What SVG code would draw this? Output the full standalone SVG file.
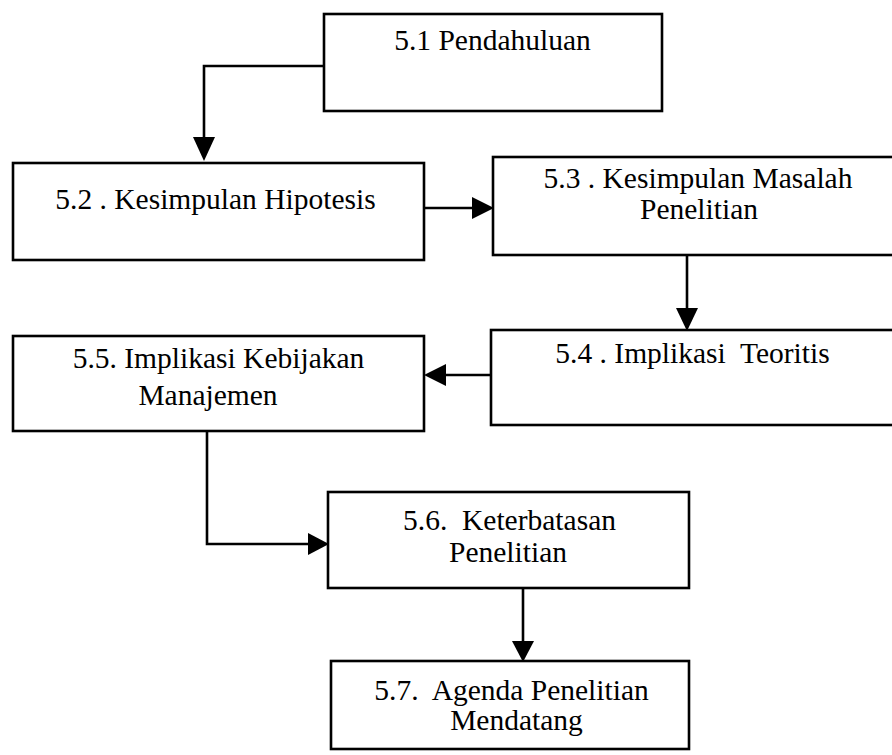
<svg xmlns="http://www.w3.org/2000/svg" width="892" height="755" viewBox="0 0 892 755">
<style>
.box{fill:#fff;stroke:#000;stroke-width:2.6}
.lbl{font-family:"Liberation Serif","Times New Roman",serif;font-size:29.5px;fill:#000;text-anchor:middle;white-space:pre}
.ln{fill:none;stroke:#000;stroke-width:2.6}
.ah{fill:#000;stroke:none}
</style>
<rect width="892" height="755" fill="#fff"/>
<g id="connectors">
<polyline class="ln" points="324,66 204,66 204,138"/>
<polygon class="ah" points="193,137 215,137 204,161"/>
<line class="ln" x1="424" y1="208" x2="473" y2="208"/>
<polygon class="ah" points="472,197 472,219 494,208"/>
<line class="ln" x1="687" y1="255" x2="687" y2="309"/>
<polygon class="ah" points="676,308 698,308 687,331"/>
<line class="ln" x1="491" y1="375" x2="445" y2="375"/>
<polygon class="ah" points="446,364 446,386 424,375"/>
<polyline class="ln" points="207,431 207,544 309,544"/>
<polygon class="ah" points="308,533 308,555 329,544"/>
<line class="ln" x1="523" y1="588" x2="523" y2="642"/>
<polygon class="ah" points="512,641 534,641 523,662"/>
</g>
<g id="n51">
<rect class="box" x="324" y="14" width="338" height="97"/>
<text class="lbl" x="492.5" y="50">5.1 Pendahuluan</text>
</g>
<g id="n52">
<rect class="box" x="13" y="163" width="411" height="97"/>
<text class="lbl" x="215.5" y="209">5.2 . Kesimpulan Hipotesis</text>
</g>
<g id="n53">
<rect class="box" x="493" y="157" width="412" height="98"/>
<text class="lbl" x="698" y="188">5.3 . Kesimpulan Masalah</text>
<text class="lbl" x="699" y="219">Penelitian</text>
</g>
<g id="n54">
<rect class="box" x="491" y="330" width="414" height="95"/>
<text class="lbl" x="692.5" y="363">5.4 . Implikasi  Teoritis</text>
</g>
<g id="n55">
<rect class="box" x="13" y="336" width="411" height="95"/>
<text class="lbl" x="218.5" y="368">5.5. Implikasi Kebijakan</text>
<text class="lbl" x="208" y="405">Manajemen</text>
</g>
<g id="n56">
<rect class="box" x="328" y="492" width="361" height="96"/>
<text class="lbl" x="509.5" y="530">5.6.  Keterbatasan</text>
<text class="lbl" x="508" y="562">Penelitian</text>
</g>
<g id="n57">
<rect class="box" x="331" y="661" width="358" height="88"/>
<text class="lbl" x="511.5" y="700">5.7.  Agenda Penelitian</text>
<text class="lbl" x="516.5" y="730">Mendatang</text>
</g>
</svg>
